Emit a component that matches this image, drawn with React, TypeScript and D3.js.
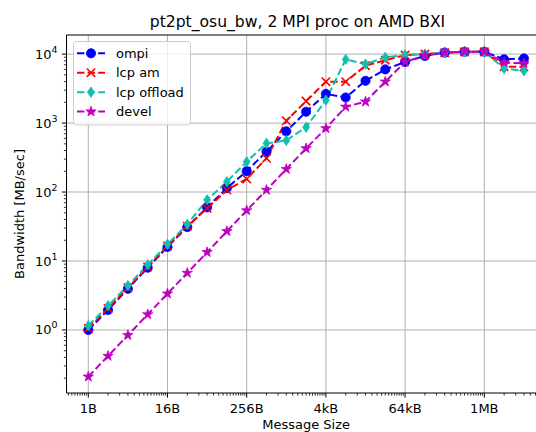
import React from "react";
import * as d3 from "d3";

const sizes = [1, 2, 4, 8, 16, 32, 64, 128, 256, 512, 1024, 2048, 4096, 8192, 16384, 32768, 65536, 131072, 262144, 524288, 1048576, 2097152, 4194304];
const ompi = [1.0, 1.95, 3.95, 8.0, 16, 31, 60, 114, 201, 384, 760, 1460, 2650, 2350, 4100, 6000, 7700, 9400, 10500, 10800, 10800, 8400, 8650];
const lcpAm = [1.05, 2.05, 4.1, 8.2, 16.5, 32, 58, 107, 155, 308, 1080, 2080, 3980, 3980, 6800, 8150, 9700, 10000, 10500, 10800, 10800, 6540, 6540];
const lcpOffload = [1.15, 2.25, 4.4, 8.8, 17.5, 34, 77, 141, 275, 508, 560, 870, 2150, 8380, 7160, 8960, 9700, 10000, 10500, 10800, 10800, 6170, 5730];
const devel = [0.21, 0.42, 0.84, 1.68, 3.36, 6.7, 13.4, 27, 54, 107, 215, 430, 838, 1722, 2040, 3980, 7700, 9500, 10500, 10800, 10800, 7570, 7330];

const xTickValues = [1, 16, 256, 4096, 65536, 1048576];
const xTickLabels = ["1B", "16B", "256B", "4kB", "64kB", "1MB"];
const yTickExponents = [0, 1, 2, 3, 4];

const seriesNames = ["ompi", "lcp am", "lcp offload", "devel"];
const seriesColors = ["#0000ff", "#ff0000", "#10bfae", "#bf00bf"];
const seriesMarkers = ["circle", "x", "diamond", "star"];
const seriesData = [ompi, lcpAm, lcpOffload, devel];

const FONT = "DejaVu Sans, sans-serif";

function markerPath(type: string): string {
  if (type === "circle") {
    const r = 4.6;
    return `M${r},0A${r},${r} 0 1,1 ${-r},0A${r},${r} 0 1,1 ${r},0Z`;
  }
  if (type === "diamond") {
    const w = 3.4, h = 5.2;
    return `M0,${-h}L${w},0L0,${h}L${-w},0Z`;
  }
  if (type === "star") {
    const R = 5.4, r = R * 0.38;
    let p = "";
    for (let i = 0; i < 10; i++) {
      const a = (Math.PI / 5) * i - Math.PI / 2;
      const rr = i % 2 === 0 ? R : r;
      p += (i === 0 ? "M" : "L") + (rr * Math.cos(a)).toFixed(2) + "," + (rr * Math.sin(a)).toFixed(2);
    }
    return p + "Z";
  }
  const s = 4.2;
  return `M${-s},${-s}L${s},${s}M${-s},${s}L${s},${-s}`;
}

function Marker({ type, color, x, y }: { type: string; color: string; x: number; y: number }) {
  const d = markerPath(type);
  if (type === "x") {
    return <path d={d} transform={`translate(${x},${y})`} stroke={color} strokeWidth={1.6} fill="none" />;
  }
  return <path d={d} transform={`translate(${x},${y})`} fill={color} stroke={color} strokeWidth={0.8} />;
}

export default function App() {
  const W = 536, H = 432;
  const left = 66.5, right = 545.7, top = 35, bottom = 393;
  const x = d3.scaleLog().base(2).domain([Math.pow(2, -1.1), Math.pow(2, 23.1)]).range([left, right]);
  const y = d3.scaleLog().domain([Math.pow(10, -0.914), Math.pow(10, 4.277)]).range([bottom, top]);

  const xMinor: number[] = [];
  for (let e = -1; e <= 5; e++) {
    for (let m = 2; m < 16; m++) {
      const v = m * Math.pow(16, e);
      const px = x(v);
      if (px >= left && px <= W) xMinor.push(px);
    }
  }
  const yMinor: number[] = [];
  for (let e = -1; e <= 4; e++) {
    for (let m = 2; m < 10; m++) {
      const v = m * Math.pow(10, e);
      const py = y(v);
      if (py >= top && py <= bottom) yMinor.push(py);
    }
  }

  const line = d3.line<number>().x((_, i) => x(sizes[i])).y((d) => y(d));

  const legX = 73.5, legY = 41.5, legW = 117, legH = 83.5;
  const rowY = [53.3, 72.7, 92.2, 111.6];

  return (
    <svg width={W} height={H} style={{ position: "fixed", left: 0, top: 0, background: "#fff" }} fontFamily={FONT}>
      <rect x={0} y={0} width={W} height={H} fill="#fff" />
      <defs>
        <clipPath id="plotclip">
          <rect x={left} y={top} width={right - left} height={bottom - top} />
        </clipPath>
      </defs>
      {xTickValues.map((v, i) => (
        <line key={"gx" + i} x1={x(v)} x2={x(v)} y1={top} y2={bottom} stroke="#b0b0b0" strokeWidth={1} />
      ))}
      {yTickExponents.map((e) => (
        <line key={"gy" + e} x1={left} x2={right} y1={y(Math.pow(10, e))} y2={y(Math.pow(10, e))} stroke="#b0b0b0" strokeWidth={1} />
      ))}
      <g clipPath="url(#plotclip)">
        {seriesData.map((data, si) => (
          <path key={"l" + si} d={line(data) || ""} fill="none" stroke={seriesColors[si]} strokeWidth={2} strokeDasharray="7.4,3.2" />
        ))}
        {seriesData.map((data, si) => (
          <g key={"m" + si}>
            {data.map((v, i) => (
              <Marker key={i} type={seriesMarkers[si]} color={seriesColors[si]} x={x(sizes[i])} y={y(v)} />
            ))}
          </g>
        ))}
      </g>
      <line x1={left} x2={right} y1={top} y2={top} stroke="#000" strokeWidth={1} />
      <line x1={left} x2={right} y1={bottom} y2={bottom} stroke="#000" strokeWidth={1} />
      <line x1={left} x2={left} y1={top} y2={bottom} stroke="#000" strokeWidth={1} />
      {xMinor.map((px, i) => (
        <line key={"xm" + i} x1={px} x2={px} y1={bottom} y2={bottom + 2.6} stroke="#000" strokeWidth={0.8} />
      ))}
      {xTickValues.map((v, i) => (
        <g key={"xt" + i}>
          <line x1={x(v)} x2={x(v)} y1={bottom} y2={bottom + 4.6} stroke="#000" strokeWidth={1} />
          <text x={x(v)} y={412.5} textAnchor="middle" fontSize={13} fill="#000">{xTickLabels[i]}</text>
        </g>
      ))}
      {yMinor.map((py, i) => (
        <line key={"ym" + i} x1={left} x2={left - 2.6} y1={py} y2={py} stroke="#000" strokeWidth={0.8} />
      ))}
      {yTickExponents.map((e) => {
        const py = y(Math.pow(10, e));
        return (
          <g key={"yt" + e}>
            <line x1={left} x2={left - 4.6} y1={py} y2={py} stroke="#000" strokeWidth={1} />
            <text x={57.5} y={py + 4.5} textAnchor="end" fontSize={13} fill="#000">
              10<tspan dy={-6} fontSize={9.5}>{e}</tspan>
            </text>
          </g>
        );
      })}
      <text x={(left + right) / 2} y={428.5} textAnchor="middle" fontSize={13} fill="#000">Message Size</text>
      <text transform={`translate(24,${(top + bottom) / 2}) rotate(-90)`} textAnchor="middle" fontSize={13} fill="#000">Bandwidth [MB/sec]</text>
      <text x={297.5} y={26.5} textAnchor="middle" fontSize={15.6} fill="#000">pt2pt_osu_bw, 2 MPI proc on AMD BXI</text>
      <rect x={legX} y={legY} width={legW} height={legH} rx={3} fill="#fff" fillOpacity={0.8} stroke="#cccccc" strokeWidth={1} />
      {seriesNames.map((n, i) => (
        <g key={"lg" + i}>
          <line x1={77} x2={105} y1={rowY[i]} y2={rowY[i]} stroke={seriesColors[i]} strokeWidth={2} strokeDasharray="7.4,3.2" />
          <Marker type={seriesMarkers[i]} color={seriesColors[i]} x={91} y={rowY[i]} />
          <text x={116} y={rowY[i] + 4.6} fontSize={13} fill="#000">{n}</text>
        </g>
      ))}
    </svg>
  );
}
